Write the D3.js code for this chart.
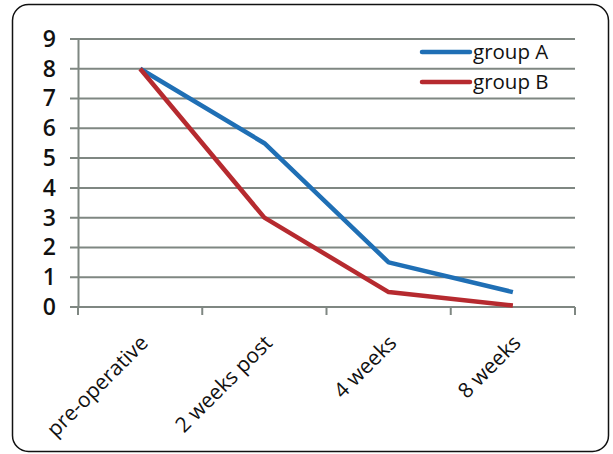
<!DOCTYPE html>
<html>
<head>
<meta charset="utf-8">
<script src="https://cdn.jsdelivr.net/npm/d3@7"></script>
<style>
  body { margin: 0; background: #fff; }
  text { font-family: "Open Sans", "Liberation Sans", sans-serif; fill: #111; }
</style>
</head>
<body>
<div id="chart"></div>
<script>
const categories = ['pre-operative', '2 weeks post', '4 weeks', '8 weeks'];
const groupA = [8, 5.5, 1.5, 0.5];
const groupB = [8, 3, 0.5, 0.05];
const seriesNames = ['group A', 'group B'];
const yTicks = [0, 1, 2, 3, 4, 5, 6, 7, 8, 9];

const width = 613, height = 454;
const plotLeft = 78, plotRight = 575, plotTop = 39, plotBottom = 307;
const colors = ['#1f6fb5', '#b62a2f'];

const svg = d3.select('#chart').append('svg')
  .attr('width', width).attr('height', height);

// outer frame
svg.append('rect')
  .attr('x', 12.5).attr('y', 4.5).attr('width', 596).attr('height', 447)
  .attr('rx', 16).attr('fill', 'none').attr('stroke', '#111').attr('stroke-width', 1.5);

const x = d3.scaleBand().domain(categories).range([plotLeft, plotRight]);
const y = d3.scaleLinear().domain([0, 9]).range([plotBottom, plotTop]);

// gridlines
svg.append('g').selectAll('line').data(yTicks).enter().append('line')
  .attr('x1', plotLeft - 8).attr('x2', plotRight)
  .attr('y1', d => y(d)).attr('y2', d => y(d))
  .attr('stroke', '#7f8782').attr('stroke-width', 2);

// y axis
const yAxis = svg.append('g')
  .attr('transform', `translate(${plotLeft},0)`)
  .call(d3.axisLeft(y).tickValues(yTicks).tickSize(0).tickPadding(22));
yAxis.select('.domain').attr('stroke', '#7f8782').attr('stroke-width', 2);
yAxis.selectAll('text').style('font-size', '23px').style('font-weight', 600).attr('fill', '#1a1a1a');

// x axis with ticks on band boundaries
const xAxis = svg.append('g')
  .attr('transform', `translate(0,${plotBottom})`);
xAxis.append('line').attr('x1', plotLeft).attr('x2', plotRight)
  .attr('stroke', '#7f8782').attr('stroke-width', 2);
const bounds = categories.map(c => x(c)).concat([plotRight]);
xAxis.selectAll('.tk').data(bounds).enter().append('line')
  .attr('x1', d => d).attr('x2', d => d).attr('y1', 0).attr('y2', 8)
  .attr('stroke', '#7f8782').attr('stroke-width', 2);
xAxis.selectAll('.lbl').data(categories).enter().append('text')
  .attr('transform', d => `translate(${x(d) + x.bandwidth() / 2 + 4},${32}) rotate(-45)`)
  .attr('text-anchor', 'end')
  .attr('dy', '0.35em')
  .style('font-size', '21px')
  .text(d => d);

// lines
const line = d3.line()
  .x((d, i) => x(categories[i]) + x.bandwidth() / 2)
  .y(d => y(d));
[groupA, groupB].forEach((s, i) => {
  svg.append('path').datum(s)
    .attr('d', line)
    .attr('fill', 'none')
    .attr('stroke', colors[i])
    .attr('stroke-width', 4.5)
    .attr('stroke-linejoin', 'round');
});

// legend
seriesNames.forEach((n, i) => {
  const ly = 52 + i * 30;
  svg.append('line').attr('x1', 422).attr('x2', 470).attr('y1', ly).attr('y2', ly)
    .attr('stroke', colors[i]).attr('stroke-width', 4.5).attr('stroke-linecap', 'round');
  svg.append('text').attr('x', 473).attr('y', ly).attr('dy', '0.35em')
    .style('font-size', '20.5px').text(n);
});
</script>
</body>
</html>
